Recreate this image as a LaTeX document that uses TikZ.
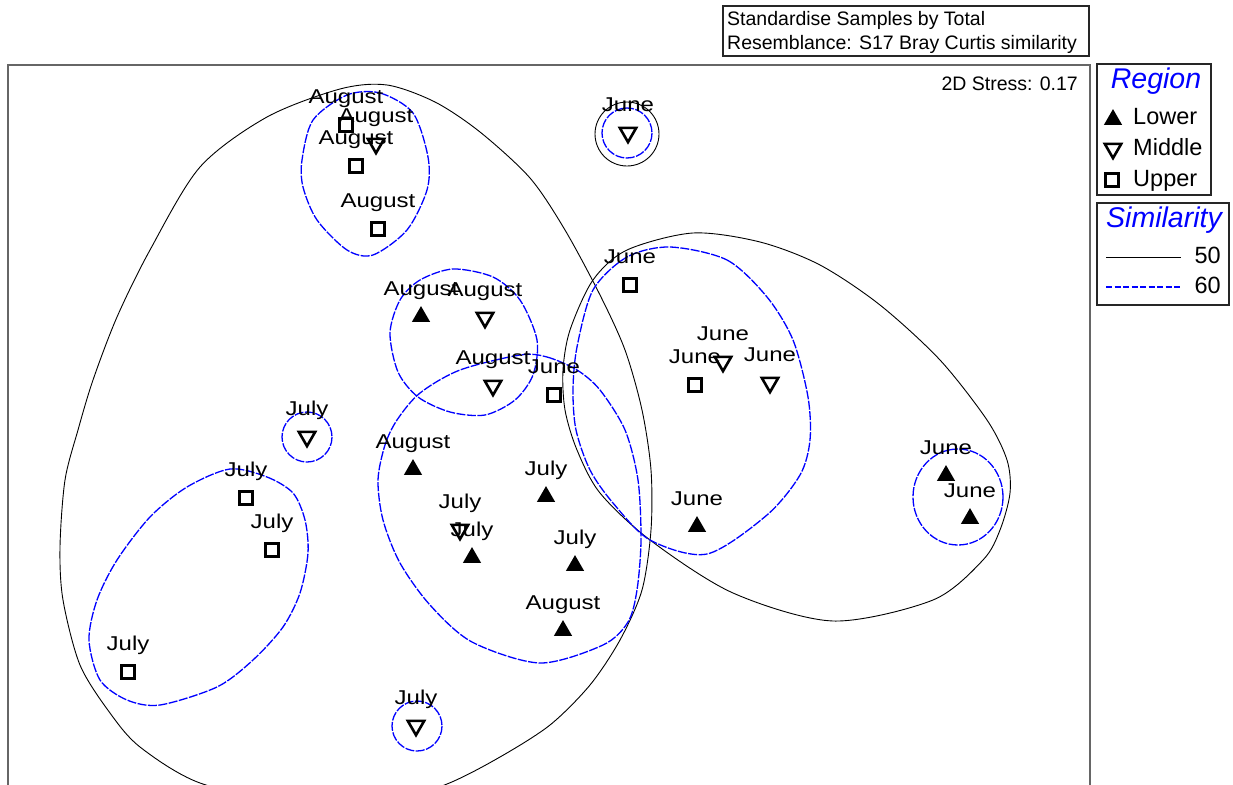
\documentclass[tikz,border=0pt]{standalone}
\usepackage{fontspec}
\setmainfont{Liberation Sans}
\newfontfamily\lblfont[FakeStretch=1.2]{Liberation Sans}
\usetikzlibrary{shapes.geometric}

\tikzset{
  lower/.style={regular polygon, regular polygon sides=3, fill=black, inner sep=0pt, minimum size=21pt, yshift=-2.6pt},
  middle/.style={regular polygon, regular polygon sides=3, shape border rotate=180, draw=black, line width=2.6pt, inner sep=0pt, minimum size=19pt, yshift=2.4pt},
  upper/.style={rectangle, draw=black, line width=2.8pt, inner sep=0pt, minimum size=13pt},
  lbl/.style={font=\lblfont\fontsize{20}{24}\selectfont, anchor=base, inner sep=0pt},
  hdr/.style={font=\fontsize{19.5}{23}\selectfont, inner sep=0pt},
  legtxt/.style={font=\fontsize{23.5}{28}\selectfont, inner sep=0pt},
  leghead/.style={font=\itshape\fontsize{28.5}{32}\selectfont, text=blue, anchor=base, inner sep=0pt},
  sim50/.style={line width=0.9pt},
  sim60/.style={blue, line width=1.3pt, dash pattern=on 9pt off 1.5pt},
  frame/.style={draw=black!60, line width=1.4pt},
  legbox/.style={draw=black!85, line width=1.2pt}
}

\begin{document}
\begin{tikzpicture}[x=1pt, y=-1pt]
  \useasboundingbox (0,0) rectangle (1233,784);
  \clip (0,0) rectangle (1233,784);

  % transform box and stress
  \draw[legbox] (723,6) rectangle (1089,56);
  \node[hdr, anchor=base west] (std) at (727,26) {Standardise Samples by Total};
  \node[hdr, anchor=base west] (res) at (727,49) {Resemblance: S17 Bray Curtis similarity};
  \draw[frame] (8,65) rectangle (1090,800);
  \node[hdr, anchor=base east] (stress) at (1078,90) {2D Stress: 0.17};

  % similarity 50
  \draw[sim50] plot[smooth cycle] coordinates {(340,89) (387,85) (435,102) (480,132) (530,178) (565,230)
    (600,295) (625,350) (642,410) (651,470) (651,530) (642,590) (620,640) (590,685) (550,725)
    (500,757) (447,784) (380,805) (300,805) (200,783) (140,747) (110,713) (80,665) (63,600)
    (60,547) (65,480) (78,430) (93,380) (117,317) (150,250) (200,167) (267,117)};
  \draw[sim50] plot[smooth cycle] coordinates {(693,233) (760,242) (820,265) (880,305) (940,360)
    (987,420) (1007,460) (1010,493) (1000,530) (983,560) (933,600) (833,621) (733,593) (650,540)
    (600,493) (577,450) (565,410) (563,370) (570,330) (593,280) (627,250)};
  \draw[sim50] (627,134) circle (32);

  % similarity 60
  \draw[sim60] plot[smooth cycle] coordinates {(347,95) (380,93) (413,113) (428,157) (427,190)
    (407,230) (373,255) (347,250) (317,220) (303,187) (302,160) (313,120)};
  \draw[sim60] plot[smooth cycle] coordinates {(453,269) (493,277) (520,300) (537,340) (533,375)
    (515,400) (485,415) (450,412) (418,397) (398,372) (390,333) (400,300) (420,280)};
  \draw[sim60] plot[smooth cycle] coordinates {(520,355) (547,357) (577,370) (600,390) (625,430)
    (638,480) (641,540) (637,590) (628,622) (603,645) (540,663) (472,642) (430,605) (400,563)
    (383,520) (378,480) (385,445) (397,420) (420,393) (460,370)};
  \draw[sim60] plot[smooth cycle] coordinates {(670,247) (727,260) (767,297) (793,340) (808,397)
    (810,440) (800,475) (767,515) (707,554) (650,540) (613,503) (590,470) (576,430) (573,390)
    (577,347) (593,290) (627,257)};
  \draw[sim60] plot[smooth cycle] coordinates {(230,469) (267,477) (293,493) (305,520) (308,553)
    (300,593) (283,627) (253,660) (217,687) (160,705) (127,700) (100,680) (89,640) (97,600)
    (117,560) (150,517) (187,487)};
  \draw[sim60] (958,497) ellipse (45 and 48);
  \draw[sim60] (627,133) circle (25);
  \draw[sim60] (307,437) circle (25);
  \draw[sim60] (417,726) circle (25);

  % Lower
  \foreach \x/\y/\t [count=\i] in {421/314/August, 413/467/August, 546/494/July, 472/555/July,
      575/563/July, 563/628/August, 697/524/June, 946/473/June, 970/516/June} {
    \node[lower] (lo\i) at (\x,\y) {};
    \node[lbl] (lotxt\i) at (\x,\y-19) {\t};
  }
  % Middle
  \foreach \x/\y/\t [count=\i] in {376/146/August, 628/135/June, 485/320/August, 493/388/August,
      307/439/July, 723/364/June, 770/385/June, 460/532/July, 416/728/July} {
    \node[middle] (mi\i) at (\x,\y) {};
    \node[lbl] (mitxt\i) at (\x,\y-24) {\t};
  }
  % Upper
  \foreach \x/\y/\t [count=\i] in {346/125/August, 356/166/August, 378/229/August, 630/285/June,
      554/395/June, 695/385/June, 246/498/July, 272/550/July, 128/672/July} {
    \node[upper] (up\i) at (\x,\y) {};
    \node[lbl] (uptxt\i) at (\x,\y-22) {\t};
  }

  % legend: region
  \draw[legbox] (1097,64) rectangle (1211,195);
  \node[leghead] (reg) at (1156,88) {Region};
  \node[lower] (keylo) at (1113,117) {};
  \node[legtxt, anchor=base west] (keylotxt) at (1133,124) {Lower};
  \node[middle] (keymi) at (1113,151) {};
  \node[legtxt, anchor=base west] (keymitxt) at (1133,155) {Middle};
  \node[upper] (keyup) at (1112,180) {};
  \node[legtxt, anchor=base west] (keyuptxt) at (1133,186) {Upper};

  % legend: similarity
  \draw[legbox] (1097,203) rectangle (1229,305);
  \node[leghead] (sim) at (1164,227) {Similarity};
  \draw[sim50] (1106,257) -- (1181,257);
  \node[legtxt, anchor=base east] (key50) at (1221,263) {50};
  \draw[sim60, dash pattern=on 6pt off 2.5pt] (1106,287) -- (1181,287);
  \node[legtxt, anchor=base east] (key60) at (1221,293) {60};
\end{tikzpicture}
\end{document}
